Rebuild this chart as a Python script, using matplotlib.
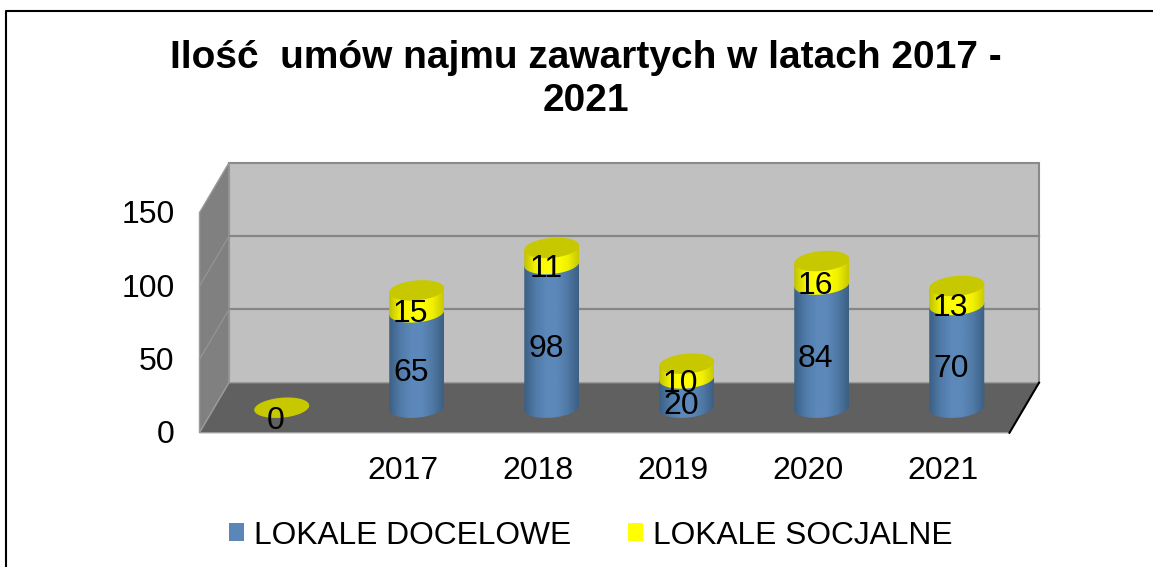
import numpy as np
import matplotlib
matplotlib.use("Agg")
import matplotlib.pyplot as plt
from matplotlib.colors import LinearSegmentedColormap
from matplotlib.lines import Line2D
from matplotlib.patches import Polygon, Patch
from matplotlib.transforms import ScaledTranslation

lata = ["", "2017", "2018", "2019", "2020", "2021"]
docelowe = [0, 65, 98, 20, 84, 70]
socjalne = [0, 15, 11, 10, 16, 13]
nazwy = ["LOKALE DOCELOWE", "LOKALE SOCJALNE"]
tytul = "Ilość  umów najmu zawartych w latach 2017 -\n2021"
ticki_y = [0, 50, 100, 150]

W, H = 1153, 567
plt.rcParams["font.family"] = ["Liberation Sans", "DejaVu Sans"]

fig = plt.figure(figsize=(W / 100, H / 100), dpi=100)
# os jest przednia plaszczyzna wykresu, reszta to przesuniecie w glab
ax = fig.add_axes([199.5 / W, 1 - 432.7 / H, 810 / W, 220 / H])
ax.set_xlim(-0.5, 5.5)
ax.set_ylim(0, 150)
ax.patch.set_visible(False)
for s in ax.spines.values():
    s.set_visible(False)

px_x = 6 / 810
px_y = 150 / 220
gl_x = 29.5 * px_x
gl_y = 50 * px_y

# sciany i podloga
ax.add_patch(Polygon([(-0.5 + gl_x, gl_y), (5.5 + gl_x, gl_y), (5.5 + gl_x, 150 + gl_y), (-0.5 + gl_x, 150 + gl_y)],
                     fc="#c0c0c0", ec="#8a8a8a", lw=1.5, clip_on=False, zorder=1))
ax.add_patch(Polygon([(-0.5, 0), (-0.5 + gl_x, gl_y), (-0.5 + gl_x, 150 + gl_y), (-0.5, 150)],
                     fc="#808080", ec="#9a9a9a", lw=1, clip_on=False, zorder=1))
for v in [50, 100]:
    ax.plot([-0.5 + gl_x, 5.5 + gl_x], [v + gl_y, v + gl_y], color="#868686", lw=1.6, clip_on=False, zorder=2)
    ax.plot([-0.5, -0.5 + gl_x], [v, v + gl_y], color="#969696", lw=0.8, clip_on=False, zorder=2)
ax.add_patch(Polygon([(-0.5, 0), (5.5, 0), (5.5 + gl_x, gl_y), (-0.5 + gl_x, gl_y)],
                     fc="#606060", ec="#9a9a9a", lw=1, clip_on=False, zorder=2))
ax.plot([5.5, 5.5 + gl_x], [0, gl_y], color="black", lw=1.5, clip_on=False, zorder=2)

cm_blue = LinearSegmentedColormap.from_list("b", ["#3c5f84", "#4f7aa8", "#5c88ba", "#5c88ba", "#4f78a4", "#3c5f84"])
cm_yel = LinearSegmentedColormap.from_list("y", ["#c0c000", "#f2f200", "#ffff00", "#ffff00", "#f0f000", "#c8c800"])
gradient = np.linspace(0, 1, 128).reshape(1, -1)

rx = 27.5 * px_x
ry = 10 * px_y
szew = 2.2 * px_y  # elipsy sa lekko pochylone, prawa strona wyzej


def elipsa(x, y, kat):
    return np.column_stack([x + rx * np.cos(kat), y + ry * np.sin(kat) + szew * np.cos(kat)])


def walec(x, dol, gora, cmap):
    # bok walca: gradient przyciety do dolnego luku i gornych rogow
    luk = elipsa(x, dol, np.linspace(np.pi, 2 * np.pi, 50))
    pts = np.vstack([[(x - rx, gora - szew)], luk, [(x + rx, gora + szew)]])
    maska = Polygon(pts, transform=ax.transData)
    im = ax.imshow(gradient, cmap=cmap, aspect="auto", zorder=3,
                   extent=(x - rx, x + rx, dol - ry - szew, gora + szew))
    im.set_clip_path(maska)


def opis(x, y, tekst):
    ax.annotate(tekst, (x, y), xytext=(-6, -9.5), textcoords="offset pixels", ha="center",
                va="center_baseline", fontsize=23, color="black", zorder=5, annotation_clip=False)


for i, (d, s) in enumerate(zip(docelowe, socjalne)):
    x = i + gl_x / 2
    b = gl_y / 2
    if d > 0:
        walec(x, b, b + d, cm_blue)
    if s > 0:
        walec(x, b + d, b + d + s, cm_yel)
    gora = elipsa(x, b + d + s, np.linspace(0, 2 * np.pi, 100))
    ax.add_patch(Polygon(gora, fc="#c8c800", ec="none", zorder=4))
    if d > 0:
        opis(x, b + d / 2, str(d))
    opis(x, b + d + s / 2, str(s))

ax.set_xlim(-0.5, 5.5)
ax.set_ylim(0, 150)
ax.set_xticks(range(len(lata)), lata)
ax.set_yticks(ticki_y)
ax.tick_params(axis="x", length=0, pad=16.5, labelsize=23)
ax.tick_params(axis="y", length=0, pad=18, labelsize=23)
for t in ax.get_yticklabels():
    t.set_transform(t.get_transform() + ScaledTranslation(0, 1 / 100, fig.dpi_scale_trans))
for t in ax.get_xticklabels():
    t.set_transform(t.get_transform() + ScaledTranslation(1 / 100, 0, fig.dpi_scale_trans))

uchwyty = [Patch(fc="#5b86b8", ec="none"), Patch(fc="#ffff00", ec="none")]
fig.legend(uchwyty, nazwy, loc="center left", bbox_to_anchor=(229 / W, 1 - 535.5 / H), ncol=2, frameon=False,
           fontsize=22.9, handlelength=0.47, handleheight=0.47, handletextpad=0.32, columnspacing=1.79,
           borderaxespad=0, borderpad=0)

fig.text(586 / W, 1 - 79.5 / H, tytul, ha="center", va="center", fontsize=28, fontweight="bold",
         linespacing=1.25)

# ramka obrazka (tylko lewa i gorna krawedz)
fig.add_artist(Line2D([6 / W, 6 / W, 1], [0, 1 - 11 / H, 1 - 11 / H], color="black", lw=1.5))

plt.savefig("out.png", dpi=100)
plt.close()
